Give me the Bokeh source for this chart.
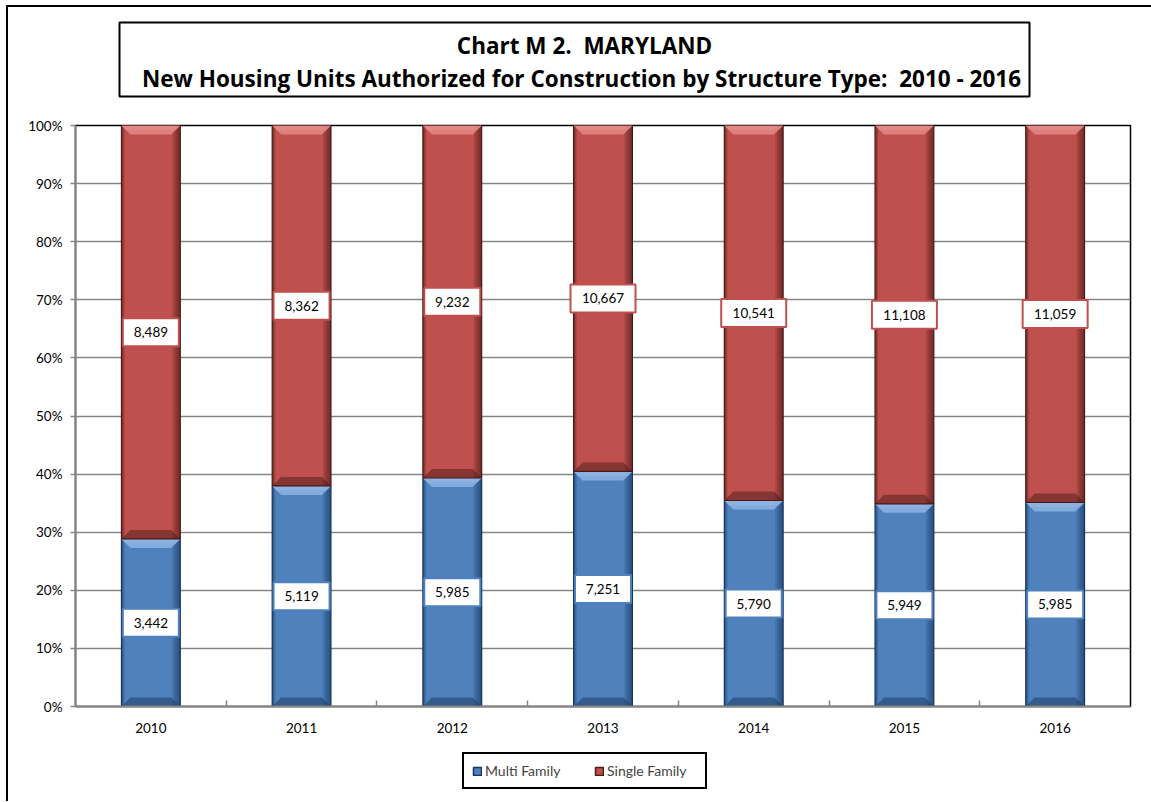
import numpy as np
from bokeh.plotting import figure
from bokeh.layouts import column
from bokeh.models import (Range1d, FixedTicker, PrintfTickFormatter, Legend, LegendItem,
                          Label, BoxAnnotation)
from bokeh.core.properties import value
from bokeh.embed import file_html
from bokeh.resources import INLINE

# ---------------- data ----------------
years = ["2010", "2011", "2012", "2013", "2014", "2015", "2016"]
multi_family = [3442, 5119, 5985, 7251, 5790, 5949, 5985]
single_family = [8489, 8362, 9232, 10667, 10541, 11108, 11059]
series_names = ["Multi Family", "Single Family"]
y_ticks = [0, 10, 20, 30, 40, 50, 60, 70, 80, 90, 100]
title_line1 = "Chart M 2.  MARYLAND"
title_line2 = "New Housing Units Authorized for Construction by Structure Type:  2010 - 2016"

# ---------------- layout ----------------
W = 1143
HH = 110                 # header height
HM = 625                 # main figure height
HF = 59                  # footer height
FL, FR = 67, 1122        # frame left/right in figure px
FT, FB = 8, 589          # frame top/bottom in main figure px
FONT = "Lato"
TFONT = "Open Sans"
GREY = "#868686"

blue, blue_dark, blue_light = "#4f81bd", "#17375e", "#95b9e8"
red, red_dark, red_light = "#c0504d", "#4a1a18", "#e8908d"

def keep_spaces(s):
    return s.replace("  ", "\u00a0 ")

def blank_fig(h):
    f = figure(width=W, height=h, output_backend="svg", toolbar_location=None,
               x_range=Range1d(0, W), y_range=Range1d(0, h),
               x_axis_type=None, y_axis_type=None,
               min_border_left=0, min_border_right=0, min_border_top=0, min_border_bottom=0)
    f.outline_line_color = None
    f.grid.visible = False
    f.background_fill_color = "white"
    f.border_fill_color = "white"
    f.frame_align = False
    return f

# ---------------- header (title box) ----------------
hdr = blank_fig(HH)
hdr.add_layout(BoxAnnotation(left=111, right=1021, top=HH - 15, bottom=HH - 89,
                             left_units="screen", right_units="screen",
                             top_units="screen", bottom_units="screen",
                             fill_color="white", fill_alpha=1.0,
                             line_color="black", line_alpha=1.0, line_width=2))
hdr.add_layout(Label(x=576, y=HH - 38, x_units="screen", y_units="screen",
                     text=keep_spaces(title_line1), text_align="center",
                     text_baseline="middle", text_font=TFONT, text_font_style="bold",
                     text_font_size="22.5px", text_color="black"))
hdr.add_layout(Label(x=573, y=HH - 71, x_units="screen", y_units="screen",
                     text=keep_spaces(title_line2), text_align="center",
                     text_baseline="middle", text_font=TFONT, text_font_style="bold",
                     text_font_size="22.5px", text_color="black"))

# ---------------- main chart ----------------
n = len(years)
p = figure(width=W, height=HM, output_backend="svg", toolbar_location=None,
           x_range=Range1d(0, n), y_range=Range1d(0, 100),
           min_border_left=FL, min_border_right=W - FR,
           min_border_top=FT, min_border_bottom=HM - FB)
p.background_fill_color = "white"
p.border_fill_color = "white"
p.outline_line_color = "black"
p.outline_line_width = 1.5
p.frame_align = False

px_x = n / (FR - FL)      # x units per pixel
px_y = 100 / (FB - FT)    # y units per pixel

mf = np.array(multi_family, float)
sf = np.array(single_family, float)
tot = mf + sf
m_pct = mf / tot * 100
xc = np.arange(n) + 0.5
half = 0.195
L = xc - half
R = xc + half

def draw_segment(bottom, top, base, dark, light):
    p.quad(left=L, right=R, bottom=bottom, top=top,
           fill_color=base, line_color=dark, line_width=1.2)
    for wpx in [8, 6, 4, 2]:
        p.quad(left=R - wpx * px_x, right=R, bottom=bottom, top=top,
               fill_color=dark, fill_alpha=0.2, line_color=None)
    for wpx in [3, 1.5]:
        p.quad(left=L, right=L + wpx * px_x, bottom=bottom, top=top,
               fill_color=dark, fill_alpha=0.3, line_color=None)
    d = 9 * px_x
    h = 9 * px_y
    xs = [[l, r, r - d, l + d] for l, r in zip(L, R)]
    ys = [[t, t, t - h, t - h] for t in top]
    p.patches(xs, ys, fill_color=light, fill_alpha=0.75, line_color=None)
    ys2 = [[t, t, t - h * 0.5, t - h * 0.5] for t in top]
    xs2 = [[l, r, r - d * 0.5, l + d * 0.5] for l, r in zip(L, R)]
    p.patches(xs2, ys2, fill_color=light, fill_alpha=0.5, line_color=None)
    ysb = [[b, b, b + h, b + h] for b in bottom]
    p.patches(xs, ysb, fill_color=dark, fill_alpha=0.5, line_color=None)

draw_segment(np.zeros(n), m_pct, blue, blue_dark, blue_light)
draw_segment(m_pct, np.full(n, 100.0), red, red_dark, red_light)

# ---------------- value labels ----------------
def draw_labels(vals, mids, border):
    texts = [f"{int(v):,}" for v in vals]
    widths = [9 * len(t) + 11 for t in texts]
    p.rect(x=xc, y=mids, width=widths, height=28, width_units="screen",
           height_units="screen", fill_color="white", line_color=border, line_width=2)
    p.text(x=xc, y=mids, text=texts, text_align="center", text_baseline="middle",
           text_font=value(FONT), text_font_size="13.5px", text_color="black")

draw_labels(multi_family, m_pct / 2, blue)
draw_labels(single_family, (m_pct + 100) / 2, red)

# ---------------- axes ----------------
p.xaxis.ticker = FixedTicker(ticks=list(xc), minor_ticks=list(range(1, n)))
p.xaxis.major_label_overrides = {float(x): y for x, y in zip(xc, years)}
p.xaxis.major_tick_line_color = None
p.xaxis.minor_tick_in = 6
p.xaxis.minor_tick_out = 0
p.xaxis.minor_tick_line_color = GREY
p.xaxis.minor_tick_line_width = 1.5
p.xaxis.axis_line_color = GREY
p.xaxis.axis_line_width = 2
p.xaxis.major_label_standoff = 10
p.xaxis.major_label_text_font = FONT
p.xaxis.major_label_text_font_size = "13.5px"
p.xaxis.major_label_text_color = "black"

p.yaxis.ticker = FixedTicker(ticks=y_ticks)
p.yaxis.formatter = PrintfTickFormatter(format="%d%%")
p.yaxis.major_tick_out = 5
p.yaxis.major_tick_in = 0
p.yaxis.minor_tick_line_color = None
p.yaxis.major_tick_line_color = GREY
p.yaxis.major_tick_line_width = 1.5
p.yaxis.axis_line_color = GREY
p.yaxis.axis_line_width = 2
p.yaxis.major_label_standoff = 8
p.yaxis.major_label_text_font = FONT
p.yaxis.major_label_text_font_size = "13.5px"
p.yaxis.major_label_text_color = "black"

p.xgrid.visible = False
p.ygrid.ticker = FixedTicker(ticks=y_ticks)
p.ygrid.grid_line_color = GREY
p.ygrid.grid_line_width = 1.5

# ---------------- footer (legend) ----------------
ftr = blank_fig(HF)
nan = [np.nan]
lm = ftr.quad(left=nan, right=nan, top=nan, bottom=nan, fill_color=blue,
              line_color=blue_dark, line_width=1.5)
ls = ftr.quad(left=nan, right=nan, top=nan, bottom=nan, fill_color=red,
              line_color=red_dark, line_width=1.5)
legend = Legend(items=[LegendItem(label=series_names[0], renderers=[lm]),
                       LegendItem(label=series_names[1], renderers=[ls])],
                location=(454, 12), orientation="horizontal",
                border_line_color="black", border_line_width=2, border_line_alpha=1.0,
                background_fill_color="white", background_fill_alpha=1.0,
                label_text_font=FONT, label_text_font_size="14px",
                glyph_width=10, glyph_height=10, label_standoff=3, spacing=19,
                padding=8, label_height=16, label_width=90, margin=0)
ftr.add_layout(legend)

layout = column(hdr, p, ftr, spacing=0,
                styles={"margin-left": "6px", "margin-top": "5px",
                        "border-left": "2px solid black", "border-top": "2px solid black"})

open("out.html", "w").write(file_html(layout, INLINE))
